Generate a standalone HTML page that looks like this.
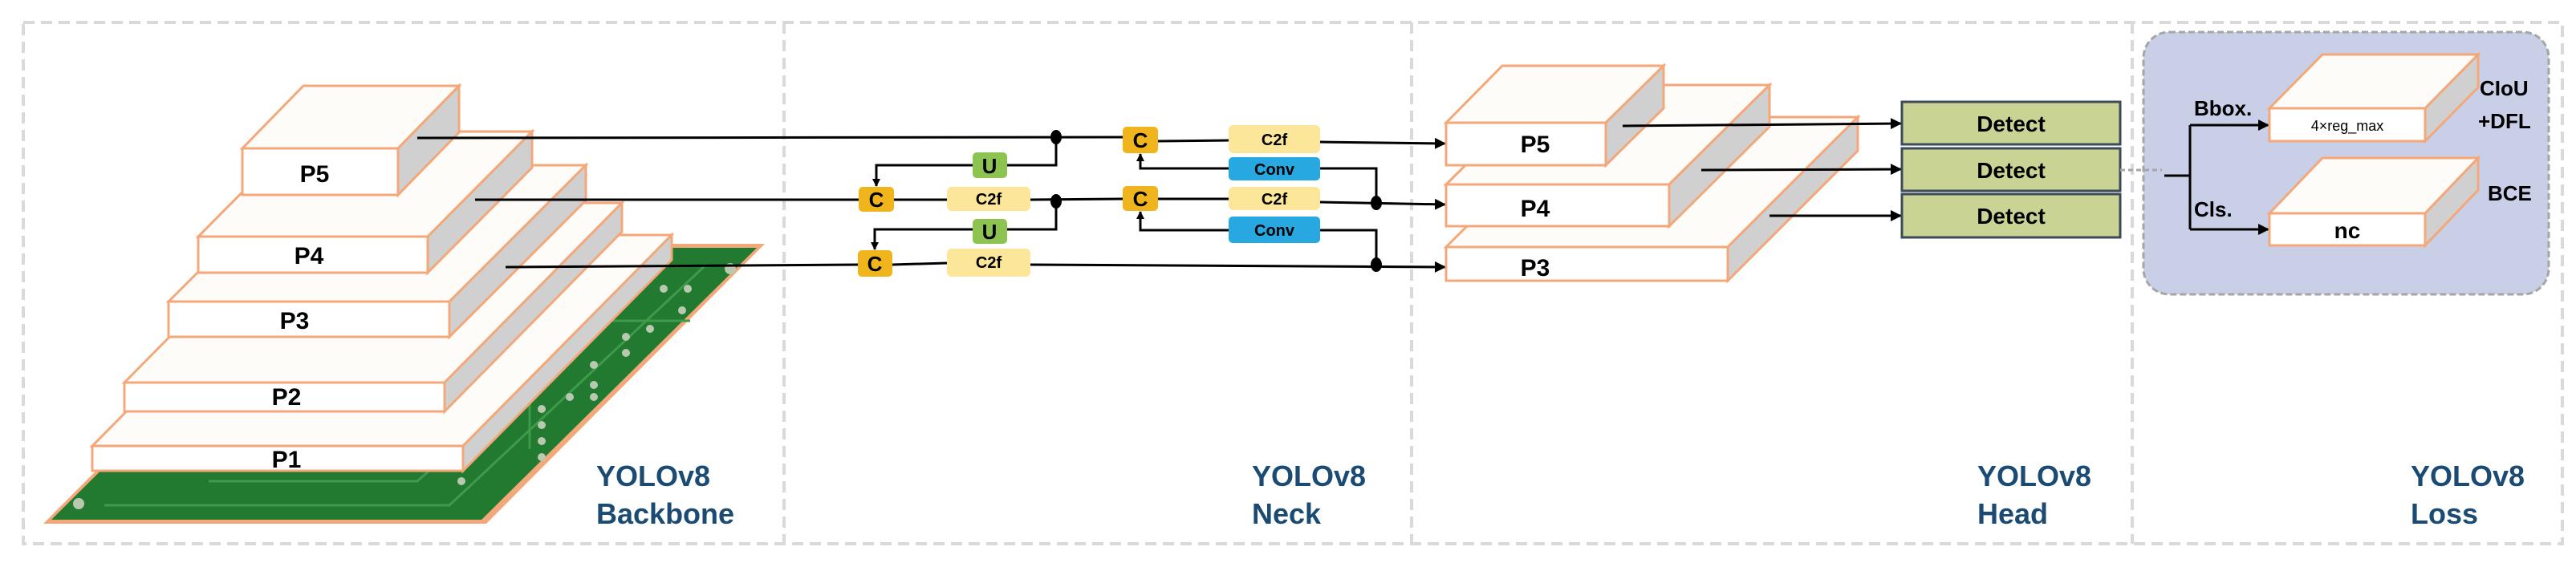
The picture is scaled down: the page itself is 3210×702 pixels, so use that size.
<!DOCTYPE html>
<html><head><meta charset="utf-8"><style>
html,body{margin:0;padding:0;background:#fff;}
svg{display:block;font-family:"Liberation Sans",Arial,sans-serif;font-weight:bold;}
</style></head><body>
<svg width="3210" height="702" viewBox="0 0 3210 702" xmlns="http://www.w3.org/2000/svg">
<defs>
<marker id="ar" markerWidth="10" markerHeight="10" refX="9" refY="5" orient="auto" markerUnits="userSpaceOnUse"><path d="M0,0 L10,5 L0,10 z" fill="#000"/></marker>
<marker id="ar2" markerWidth="14" markerHeight="14" refX="13" refY="7" orient="auto" markerUnits="userSpaceOnUse"><path d="M0,0 L14,7 L0,14 z" fill="#000"/></marker>
</defs>
<rect x="29" y="28" width="3164" height="650" fill="none" stroke="#d9d9d9" stroke-width="4" stroke-dasharray="14 8"/>
<line x1="977" y1="28" x2="977" y2="678" stroke="#d9d9d9" stroke-width="4" stroke-dasharray="14 8"/>
<line x1="1759" y1="28" x2="1759" y2="678" stroke="#d9d9d9" stroke-width="4" stroke-dasharray="14 8"/>
<line x1="2657" y1="28" x2="2657" y2="678" stroke="#d9d9d9" stroke-width="4" stroke-dasharray="14 8"/>

<polygon points="54,653 606,653 953,304 401,304" fill="#f4a87a"/>
<polygon points="64,648 600,648 943,309 405,309" fill="#217a30"/>
<g stroke="#3f9a4a" stroke-width="3" fill="none">
<path d="M130,630 L560,630 L880,330"/><path d="M260,600 L520,600 L700,440"/><path d="M660,560 L660,470 L760,400 L860,400"/>
</g>
<g fill="#b9c9b0">
<circle cx="98" cy="628" r="7"/><circle cx="910" cy="335" r="7"/><circle cx="827" cy="360" r="5"/><circle cx="857" cy="360" r="5"/><circle cx="780" cy="420" r="5"/><circle cx="780" cy="440" r="5"/><circle cx="740" cy="455" r="5"/><circle cx="740" cy="480" r="5"/><circle cx="710" cy="495" r="5"/><circle cx="740" cy="495" r="5"/><circle cx="675" cy="510" r="5"/><circle cx="675" cy="530" r="5"/><circle cx="675" cy="550" r="5"/><circle cx="675" cy="570" r="5"/><circle cx="575" cy="600" r="5"/><circle cx="810" cy="410" r="5"/><circle cx="850" cy="387" r="5"/>
</g>

<g stroke="#f4a87a" stroke-width="3" stroke-linejoin="miter">
<polygon points="115,556 375,293 837,293 577,556" fill="#fdfcf9"/>
<polygon points="577,556 837,293 837,324 577,587" fill="#cfd0cf"/>
<rect x="115" y="556" width="462" height="31" fill="#fff"/>
<polygon points="155,477 376,253 775,253 554,477" fill="#fdfcf9"/>
<polygon points="554,477 775,253 775,289 554,513" fill="#cfd0cf"/>
<rect x="155" y="477" width="399" height="36" fill="#fff"/>
<polygon points="210,376 380,206 730,206 560,376" fill="#fdfcf9"/>
<polygon points="560,376 730,206 730,250 560,420" fill="#cfd0cf"/>
<rect x="210" y="376" width="350" height="44" fill="#fff"/>
<polygon points="247,295 377,164 663,164 533,295" fill="#fdfcf9"/>
<polygon points="533,295 663,164 663,209 533,340" fill="#cfd0cf"/>
<rect x="247" y="295" width="286" height="45" fill="#fff"/>
<polygon points="302,185 378,107 572,107 496,185" fill="#fdfcf9"/>
<polygon points="496,185 572,107 572,165 496,243" fill="#cfd0cf"/>
<rect x="302" y="185" width="194" height="58" fill="#fff"/>
</g>
<g font-size="30" text-anchor="middle" fill="#000">
<text x="392" y="227">P5</text>
<text x="385" y="329">P4</text>
<text x="367" y="410">P3</text>
<text x="357" y="505">P2</text>
<text x="357" y="583">P1</text>
</g>

<g stroke="#000" stroke-width="3" fill="none">
<line x1="520" y1="172" x2="1399" y2="171"/>
<line x1="592" y1="249" x2="1070" y2="249"/>
<line x1="630" y1="333" x2="1069" y2="330"/>
<line x1="1114" y1="249" x2="1180" y2="249"/>
<line x1="1112" y1="330" x2="1180" y2="328"/>
<line x1="1284" y1="249" x2="1399" y2="248"/>
<line x1="1443" y1="176" x2="1531" y2="175"/>
<line x1="1443" y1="248" x2="1531" y2="248"/>
<polyline points="1316,171 1316,206 1255,206"/>
<polyline points="1212,206 1092,206 1092,232" marker-end="url(#ar)"/>
<polyline points="1316,251 1316,286 1255,286"/>
<polyline points="1212,286 1090,286 1090,311" marker-end="url(#ar)"/>
<polyline points="1645,210 1715,210 1715,253"/>
<polyline points="1531,210 1421,210 1421,192" marker-end="url(#ar)"/>
<polyline points="1645,287 1715,287 1715,330"/>
<polyline points="1531,287 1421,287 1421,264" marker-end="url(#ar)"/>
<line x1="1645" y1="177" x2="1801" y2="179" marker-end="url(#ar2)"/>
<line x1="1645" y1="252" x2="1801" y2="255" marker-end="url(#ar2)"/>
<line x1="1284" y1="330" x2="1801" y2="333" marker-end="url(#ar2)"/>
</g>
<g fill="#000">
<ellipse cx="1316" cy="171" rx="7" ry="9"/><ellipse cx="1316" cy="251" rx="7" ry="9"/>
<ellipse cx="1715" cy="253" rx="7" ry="9"/><ellipse cx="1715" cy="330" rx="7" ry="9"/>
</g>
<g>
<rect x="1399" y="158" width="44" height="33" rx="5" fill="#f0b51c"/>
<rect x="1399" y="232" width="44" height="31" rx="5" fill="#f0b51c"/>
<rect x="1070" y="233" width="44" height="31" rx="5" fill="#f0b51c"/>
<rect x="1069" y="312" width="43" height="33" rx="5" fill="#f0b51c"/>
<rect x="1212" y="190" width="43" height="32" rx="5" fill="#8dc451"/>
<rect x="1212" y="273" width="43" height="31" rx="5" fill="#8dc451"/>
<rect x="1180" y="233" width="104" height="30" rx="6" fill="#fbe699"/>
<rect x="1180" y="310" width="104" height="35" rx="6" fill="#fbe699"/>
<rect x="1531" y="156" width="114" height="35" rx="6" fill="#fbe699"/>
<rect x="1531" y="233" width="114" height="29" rx="6" fill="#fbe699"/>
<rect x="1531" y="196" width="114" height="29" rx="5" fill="#27a8e0"/>
<rect x="1531" y="270" width="114" height="33" rx="5" fill="#27a8e0"/>
</g>
<g text-anchor="middle" fill="#000">
<g font-size="26"><text x="1421" y="184">C</text><text x="1421" y="257">C</text><text x="1092" y="258">C</text><text x="1090" y="338">C</text>
<text x="1233" y="216">U</text><text x="1233" y="298">U</text></g>
<g font-size="20"><text x="1232" y="255">C2f</text><text x="1232" y="334">C2f</text><text x="1588" y="181">C2f</text><text x="1588" y="255">C2f</text>
<text x="1588" y="218">Conv</text><text x="1588" y="294">Conv</text></g>
</g>

<g stroke="#f4a87a" stroke-width="3">
<polygon points="1802,308 1964,146 2315,146 2153,308" fill="#fdfcf9"/>
<polygon points="2153,308 2315,146 2315,188 2153,350" fill="#cfd0cf"/>
<rect x="1802" y="308" width="351" height="42" fill="#fff"/>
<polygon points="1802,230 1927,106 2205,106 2080,230" fill="#fdfcf9"/>
<polygon points="2080,230 2205,106 2205,158 2080,282" fill="#cfd0cf"/>
<rect x="1802" y="230" width="278" height="52" fill="#fff"/>
<polygon points="1802,153 1872,82 2073,82 2001,153" fill="#fdfcf9"/>
<polygon points="2001,153 2073,82 2073,135 2001,206" fill="#cfd0cf"/>
<rect x="1802" y="153" width="199" height="53" fill="#fff"/>
</g>
<g font-size="30" text-anchor="middle" fill="#000">
<text x="1913" y="190">P5</text><text x="1913" y="270">P4</text><text x="1913" y="344">P3</text>
</g>
<g stroke="#000" stroke-width="3">
<line x1="2022" y1="157" x2="2369" y2="154" marker-end="url(#ar2)"/>
<line x1="2120" y1="212" x2="2369" y2="211" marker-end="url(#ar2)"/>
<line x1="2205" y1="269" x2="2369" y2="269" marker-end="url(#ar2)"/>
</g>
<g fill="#c9d394" stroke="#3d4a5a" stroke-width="3">
<rect x="2370" y="127" width="272" height="53"/>
<rect x="2370" y="185" width="272" height="53"/>
<rect x="2370" y="242" width="272" height="54"/>
</g>
<g font-size="28" text-anchor="middle" fill="#000">
<text x="2506" y="164">Detect</text><text x="2506" y="222">Detect</text><text x="2506" y="279">Detect</text>
</g>

<rect x="2671" y="40" width="505" height="327" rx="32" fill="#c8cfe6" stroke="#a6a6a6" stroke-width="3" stroke-dasharray="8 4"/>
<line x1="2642" y1="212" x2="2694" y2="212" stroke="#a6a6a6" stroke-width="3" stroke-dasharray="6 4"/>
<g stroke="#000" stroke-width="3" fill="none">
<line x1="2697" y1="219" x2="2729" y2="219"/>
<line x1="2729" y1="156" x2="2729" y2="286"/>
<line x1="2729" y1="156" x2="2827" y2="156" marker-end="url(#ar2)"/>
<line x1="2729" y1="286" x2="2827" y2="286" marker-end="url(#ar2)"/>
</g>
<g stroke="#f4a87a" stroke-width="3">
<polygon points="2828,135 2894,68 3088,68 3022,135" fill="#fdfcf9"/>
<polygon points="3022,135 3088,68 3088,109 3022,176" fill="#cfd0cf"/>
<rect x="2828" y="135" width="194" height="41" fill="#fff"/>
<polygon points="2828,266 2894,197 3088,197 3022,266" fill="#fdfcf9"/>
<polygon points="3022,266 3088,197 3088,237 3022,306" fill="#cfd0cf"/>
<rect x="2828" y="266" width="194" height="40" fill="#fff"/>
</g>
<g fill="#000">
<text x="2925" y="163" font-size="18" font-weight="normal" text-anchor="middle">4×reg_max</text>
<text x="2925" y="297" font-size="28" text-anchor="middle">nc</text>
<text x="2734" y="144" font-size="26">Bbox.</text>
<text x="2734" y="270" font-size="26">Cls.</text>
<text x="3090" y="119" font-size="26">CIoU</text>
<text x="3088" y="160" font-size="26">+DFL</text>
<text x="3100" y="250" font-size="26">BCE</text>
</g>

<g font-size="36" fill="#1b4a72">
<text x="743" y="606">YOLOv8</text><text x="743" y="653">Backbone</text>
<text x="1560" y="606">YOLOv8</text><text x="1560" y="653">Neck</text>
<text x="2464" y="606">YOLOv8</text><text x="2464" y="653">Head</text>
<text x="3004" y="606">YOLOv8</text><text x="3004" y="653">Loss</text>
</g>
</svg>
</body></html>
